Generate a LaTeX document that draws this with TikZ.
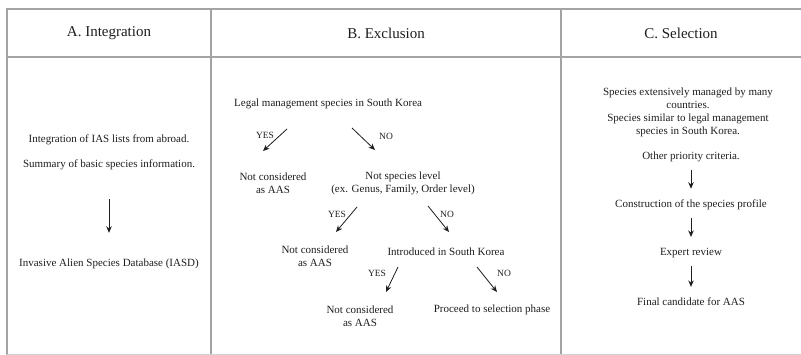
\documentclass[tikz,border=0pt]{standalone}
\usepackage{fontspec}
\setmainfont{Liberation Serif}
\usetikzlibrary{arrows.meta,positioning}
\definecolor{tbGrid}{HTML}{A3A3A3}
\definecolor{tbText}{HTML}{1E1E1E}
\tikzset{
  head/.style={font=\fontsize{15}{17}\selectfont, text=tbText, inner sep=0pt},
  txt/.style={font=\fontsize{11}{13}\selectfont, text=tbText, align=center, inner sep=0pt},
  lbl/.style={font=\fontsize{9.5}{11}\selectfont, text=tbText, inner sep=0pt},
  grid/.style={line width=1.4pt, tbGrid},
  arr/.style={-{Stealth[length=6.5pt, width=5.5pt]}, line width=0.8pt, tbText}
}
\begin{document}
\begin{tikzpicture}[x=1pt, y=-1pt]
  \useasboundingbox (0,0) rectangle (801,355);
  % table frame
  \draw[grid] (801,9) -- (7,9) -- (7,355);
  \draw[grid] (7,57) -- (801,57);
  \foreach \x in {211,561}{\draw[grid] (\x,9) -- (\x,355);}
  \draw[tbGrid!50, line width=0.8pt] (7,354) -- (801,354);
  % headers
  \node[head] (hA) at (109,33) {A. Integration};
  \node[head] (hB) at (386,33) {B. Exclusion};
  \node[head] (hC) at (681,33) {C. Selection};
  % A. Integration
  \node[txt] (intA) at (109,140) {Integration of IAS lists from abroad.};
  \node[txt] (sumA) at (109,165) {Summary of basic species information.};
  \node[txt] (iasd) at (109,264) {Invasive Alien Species Database (IASD)};
  \draw[arr, shorten <=29pt, shorten >=26pt] (sumA) -- (iasd);
  % B. Exclusion
  \node[txt, anchor=west] (legal) at (234,104) {Legal management species in South Korea};
  \node[txt] (nc1) at (273,183.5) {Not considered\\as AAS};
  \node[txt] (nsl) at (403,183.5) {Not species level\\(ex. Genus, Family, Order level)};
  \node[txt] (nc2) at (315,256.5) {Not considered\\as AAS};
  \node[txt] (intro) at (446,252) {Introduced in South Korea};
  \node[txt] (nc3) at (360,316.5) {Not considered\\as AAS};
  \node[txt] (proc) at (492,310) {Proceed to selection phase};
  \node[lbl] (yes1) at (265,135) {YES};
  \node[lbl] (no1) at (386,136) {NO};
  \node[lbl] (yes2) at (337,214) {YES};
  \node[lbl] (no2) at (447,214) {NO};
  \node[lbl] (yes3) at (377,273) {YES};
  \node[lbl] (no3) at (504,273) {NO};
  \coordinate (y1s) at (287,129); \coordinate (y1e) at (263,151);
  \coordinate (n1s) at (352,128); \coordinate (n1e) at (375,150);
  \coordinate (y2s) at (357,207); \coordinate (y2e) at (336,232);
  \coordinate (n2s) at (428,206); \coordinate (n2e) at (449,232);
  \coordinate (y3s) at (398,267); \coordinate (y3e) at (386,292);
  \coordinate (n3s) at (477,267); \coordinate (n3e) at (497,292);
  \foreach \s/\e in {y1s/y1e, n1s/n1e, y2s/y2e, n2s/n2e, y3s/y3e, n3s/n3e}{\draw[arr] (\s) -- (\e);}
  % C. Selection
  \node[txt] (crit) at (688,112.5) {Species extensively managed by many\\countries.\\Species similar to legal management\\species in South Korea.};
  \node[txt] (other) at (691,157) {Other priority criteria.};
  \node[txt] (prof) at (691,205) {Construction of the species profile};
  \node[txt] (rev) at (691,253) {Expert review};
  \node[txt] (fin) at (691,302) {Final candidate for AAS};
  \foreach \s/\e in {other/prof, prof/rev, rev/fin}{\draw[arr, shorten <=8pt, shorten >=11pt] (\s) -- (\e);}
\end{tikzpicture}
\end{document}
